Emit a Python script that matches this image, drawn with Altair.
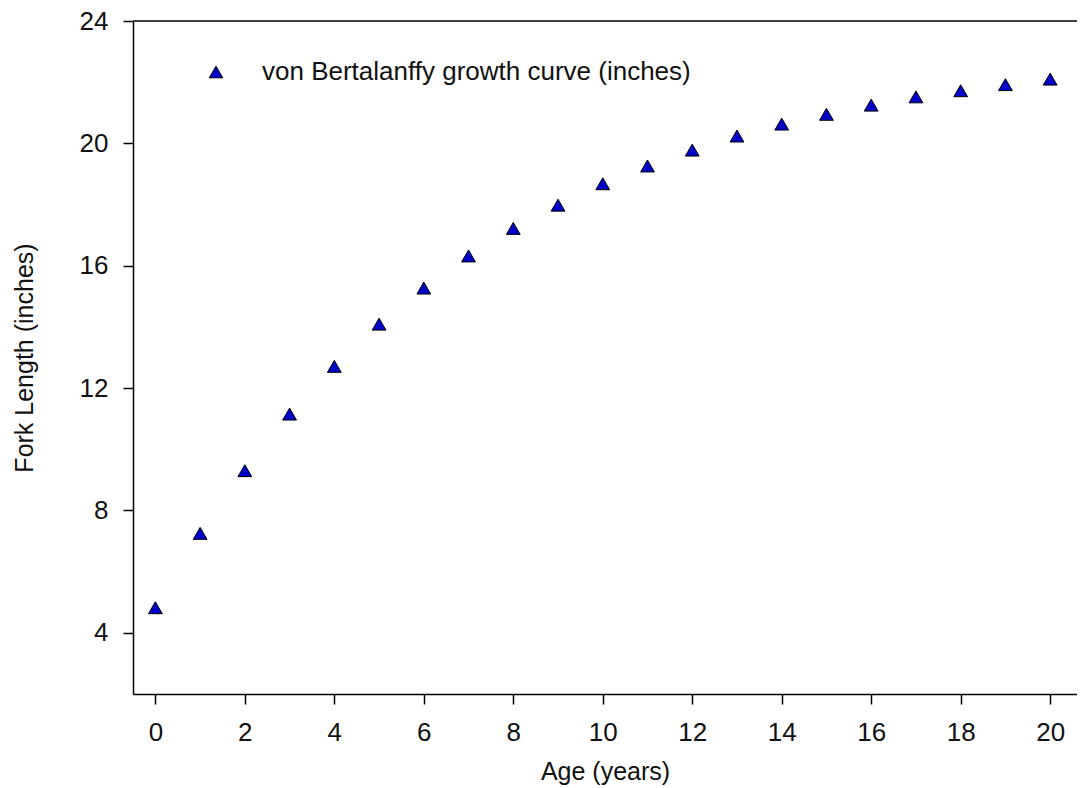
import altair as alt
import pandas as pd

# ---- data ----
ages = list(range(21))
lengths = [4.82, 7.25, 9.30, 11.15, 12.71, 14.09, 15.27, 16.32, 17.22, 17.98,
           18.68, 19.26, 19.78, 20.24, 20.63, 20.95, 21.25, 21.52, 21.72, 21.92, 22.10]
series_label = "von Bertalanffy growth curve (inches)"
x_ticks = list(range(0, 21, 2))
y_ticks = [4, 8, 12, 16, 20, 24]
y_top = [24]

df = pd.DataFrame({"age": ages, "length": lengths, "series": [series_label] * len(ages)})
top_df = pd.DataFrame({"top": y_top})

FONT = "Liberation Sans"
TEXT = "#111111"

x_enc = alt.X(
    "age:Q",
    scale=alt.Scale(domain=[-0.5, 20.6], nice=False, zero=False),
    axis=alt.Axis(title="Age (years)", values=x_ticks, labelPadding=15, titlePadding=14),
)
y_enc = alt.Y(
    "length:Q",
    scale=alt.Scale(domain=[2, 24], nice=False, zero=False),
    axis=alt.Axis(title="Fork Length (inches)", values=y_ticks, labelPadding=15, titlePadding=42),
)

points = alt.Chart(df).mark_point(
    shape="triangle-up", filled=True, size=190, stroke="black", strokeWidth=1, opacity=1
).encode(
    x=x_enc,
    y=y_enc,
    fill=alt.Fill(
        "series:N",
        scale=alt.Scale(domain=[series_label], range=["#0000c8"]),
        legend=alt.Legend(
            title=None, orient="none", legendX=70, legendY=38, padding=0,
            symbolType="triangle-up", symbolSize=180, symbolStrokeColor="black",
            symbolStrokeWidth=1, symbolOpacity=1, labelFontSize=26, labelFont=FONT,
            labelColor=TEXT, labelOffset=33, labelLimit=0,
        ),
    ),
)

top_line = alt.Chart(top_df).mark_rule(color="black", strokeWidth=1.5).encode(
    y=alt.Y("top:Q")
)

chart = alt.layer(points, top_line).properties(
    width=944,
    height=673,
    autosize=alt.AutoSizeParams(type="none"),
    padding={"left": 125, "top": 13, "right": 0, "bottom": 92},
).configure_view(stroke=None).configure_axis(
    grid=False,
    domainColor="black",
    domainWidth=1.5,
    tickColor="black",
    tickWidth=1.5,
    tickSize=10,
    labelFont=FONT,
    labelFontSize=26,
    labelColor=TEXT,
    titleFont=FONT,
    titleFontSize=25,
    titleFontWeight="normal",
    titleColor=TEXT,
)

chart.save("out.html", embed_options={"renderer": "svg", "actions": False})
